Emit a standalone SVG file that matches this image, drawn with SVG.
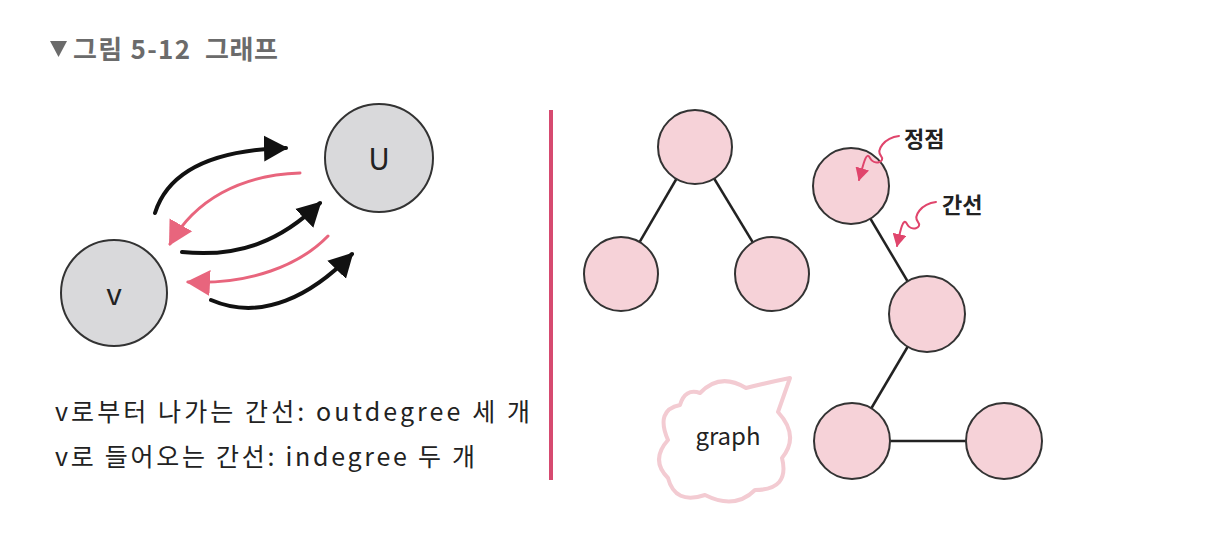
<svg xmlns="http://www.w3.org/2000/svg" width="1208" height="540" viewBox="0 0 1208 540">
<style>
.t{font-family:"Noto Sans CJK KR","Noto Sans",sans-serif}
.title{fill:#6b6b6b;font-weight:bold;font-size:26px}
.gnode{fill:#d9d9db;stroke:#333;stroke-width:2}
.pnode{fill:#f6d2d8;stroke:#333;stroke-width:2}
.blk{fill:none;stroke:#111;stroke-width:4;stroke-linecap:round}
.pnk{fill:none;stroke:#e8657d;stroke-width:3;stroke-linecap:round}
.edge{stroke:#222;stroke-width:2.5}
.lbl{fill:#222;font-size:22px}
.sq{fill:none;stroke:#e0456c;stroke-width:2;stroke-linecap:round}
</style>
<defs>
<marker id="ab" markerUnits="userSpaceOnUse" markerWidth="26" markerHeight="28" refX="22" refY="14" orient="auto"><path d="M0,1 L24,14 L0,27 Z" fill="#111"/></marker>
<marker id="ap" markerUnits="userSpaceOnUse" markerWidth="26" markerHeight="28" refX="22" refY="14" orient="auto"><path d="M0,1 L24,14 L0,27 Z" fill="#e8657d"/></marker>
<marker id="as" markerUnits="userSpaceOnUse" markerWidth="14" markerHeight="14" refX="12" refY="7" orient="auto"><path d="M0,0 L13,7 L0,14 Z" fill="#e0456c"/></marker>
</defs>

<g id="title">
<path d="M50,41 L67,41 L58.5,57 Z" fill="#6b6b6b"/>
<text class="t title" x="73" y="59" textLength="117">그림 5-12</text>
<text class="t title" x="205" y="59" textLength="73">그래프</text>
</g>

<g id="connectors-left">
<path class="blk" d="M155,213 C168,172 212,150 286,148" marker-end="url(#ab)"/>
<path class="pnk" d="M300,173 C240,175 195,200 170,244" marker-end="url(#ap)"/>
<path class="blk" d="M182,252 C240,258 282,240 320,203" marker-end="url(#ab)"/>
<path class="pnk" d="M328,236 C300,265 250,285 188,282" marker-end="url(#ap)"/>
<path class="blk" d="M211,300 C262,322 312,295 352,254" marker-end="url(#ab)"/>
</g>

<g id="node-v">
<circle class="gnode" cx="114" cy="293" r="53"/>
<text class="t" x="114" y="305" font-size="30" text-anchor="middle" fill="#222">v</text>
</g>
<g id="node-u">
<circle class="gnode" cx="379" cy="158" r="54"/>
<text class="t" x="379" y="170" font-size="30" text-anchor="middle" fill="#222">U</text>
</g>

<g id="caption">
<text class="t" x="55" y="421" font-size="25" fill="#222" textLength="475">v로부터 나가는 간선: outdegree 세 개</text>
<text class="t" x="55" y="466" font-size="25" fill="#222" textLength="420">v로 들어오는 간선: indegree 두 개</text>
</g>

<line id="divider" x1="551" y1="110" x2="551" y2="480" stroke="#d64a70" stroke-width="4"/>

<g id="connectors-right">
<line class="edge" x1="695" y1="147" x2="621" y2="274"/>
<line class="edge" x1="695" y1="147" x2="772" y2="274"/>
<line class="edge" x1="851" y1="186" x2="927" y2="314"/>
<line class="edge" x1="927" y1="314" x2="852" y2="441"/>
<line class="edge" x1="852" y1="441" x2="1004" y2="441"/>
</g>

<g id="node-a"><circle class="pnode" cx="695" cy="147" r="37"/></g>
<g id="node-b"><circle class="pnode" cx="621" cy="274" r="37"/></g>
<g id="node-c"><circle class="pnode" cx="772" cy="274" r="37"/></g>
<g id="node-d"><circle class="pnode" cx="851" cy="186" r="38"/></g>
<g id="node-e"><circle class="pnode" cx="927" cy="314" r="38"/></g>
<g id="node-f"><circle class="pnode" cx="852" cy="441" r="38"/></g>
<g id="node-g"><circle class="pnode" cx="1004" cy="441" r="38"/></g>

<g id="annot-vertex">
<path class="sq" d="M899,136 C884,138 876,150 881,156 C886,162 874,166 870,158 C866,150 863,166 859,180" marker-end="url(#as)"/>
<text class="t lbl" x="904" y="147" font-weight="bold">정점</text>
</g>
<g id="annot-edge">
<path class="sq" d="M936,202 C921,204 913,216 918,222 C923,228 911,232 907,224 C903,216 900,232 897,246" marker-end="url(#as)"/>
<text class="t lbl" x="942" y="213" font-weight="bold">간선</text>
</g>

<g id="cloud">
<path d="M700,393 Q720,372 746,388 Q770,382 790,378 L778,412 Q800,436 782,458 Q790,490 755,490 Q735,510 705,495 Q675,505 668,478 Q650,460 668,440 Q655,410 680,405 Q685,388 700,393 Z" fill="#fff" stroke="#f3cbd2" stroke-width="4" stroke-linejoin="round"/>
<text class="t" x="728" y="445" font-size="24" text-anchor="middle" fill="#222">graph</text>
</g>
</svg>
